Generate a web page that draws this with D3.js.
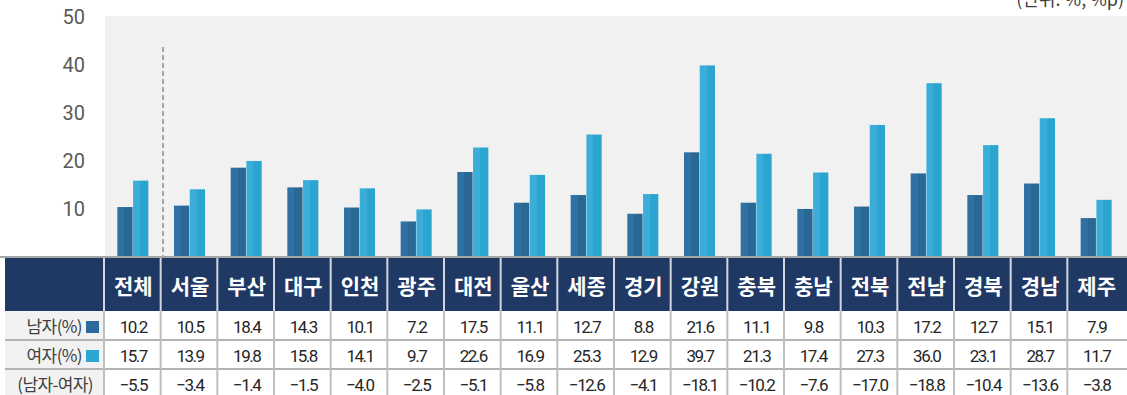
<!DOCTYPE html>
<html><head><meta charset="utf-8">
<script src="https://cdn.jsdelivr.net/npm/d3@7"></script>
<style>
html,body{margin:0;padding:0;background:#fff;}
svg{display:block;font-family:"Noto Sans CJK KR","Noto Sans",sans-serif;}
</style></head>
<body>
<svg id="chart" width="1127" height="395"></svg>
<script>
const categories = ["전체","서울","부산","대구","인천","광주","대전","울산","세종","경기","강원","충북","충남","전북","전남","경북","경남","제주"];
const maleValues = [10.2,10.5,18.4,14.3,10.1,7.2,17.5,11.1,12.7,8.8,21.6,11.1,9.8,10.3,17.2,12.7,15.1,7.9];
const femaleValues = [15.7,13.9,19.8,15.8,14.1,9.7,22.6,16.9,25.3,12.9,39.7,21.3,17.4,27.3,36.0,23.1,28.7,11.7];
const diffValues = [-5.5,-3.4,-1.4,-1.5,-4.0,-2.5,-5.1,-5.8,-12.6,-4.1,-18.1,-10.2,-7.6,-17.0,-18.8,-10.4,-13.6,-3.8];
const yTicks = [10,20,30,40,50];
const rowLabels = ["남자(%)","여자(%)","(남자-여자)"];
const unitLabel = "(단위: %, %p)";

const svg = d3.select("#chart");
const W = 1127;
const plotTop = 16, baseY = 256;
const x = d3.scaleBand().domain(categories).range([104, 1124]).paddingInner(0).paddingOuter(0);
const y = d3.scaleLinear().domain([0, 50]).range([baseY, plotTop]);
const series = ["m","f"];
const x1 = d3.scaleBand().domain(series).range([0, 31]).paddingInner(0.03);

const defs = svg.append("defs");
function grad(id, c1, c2){
  const g = defs.append("linearGradient").attr("id", id).attr("x1","0").attr("x2","1").attr("y1","0").attr("y2","0");
  g.append("stop").attr("offset","0").attr("stop-color",c1);
  g.append("stop").attr("offset","0.45").attr("stop-color",c1);
  g.append("stop").attr("offset","0.45").attr("stop-color",c2);
  g.append("stop").attr("offset","1").attr("stop-color",c2);
}
grad("gm","#2e71a2","#296795");
grad("gf","#3aaed9","#2aa5d0");

// plot background
svg.append("rect").attr("x", 105).attr("y", plotTop).attr("width", W - 105).attr("height", baseY - plotTop).attr("fill", "#f1f1f1");

// unit label (partly cut at top, as in the reference)
svg.append("text").attr("x", 1124).attr("y", 6).attr("text-anchor","end")
  .attr("font-size", 18).attr("fill", "#404040").text(unitLabel);

// y axis labels
const yAxis = d3.axisLeft(y).tickValues(yTicks).tickSize(0).tickPadding(0);
const gy = svg.append("g").attr("transform", "translate(85,0)").call(yAxis);
gy.select(".domain").remove();
gy.selectAll("text").attr("font-size", 20).attr("fill", "#595959")
  .attr("font-family", "Roboto, 'Noto Sans', sans-serif").attr("dy", "0.35em");

// dashed separator
svg.append("line").attr("x1", 163).attr("x2", 163).attr("y1", 47).attr("y2", baseY)
  .attr("stroke", "#a6a6a6").attr("stroke-width", 2).attr("stroke-dasharray", "5,3");

// bars
const groups = svg.append("g").selectAll("g").data(categories).join("g")
  .attr("transform", c => `translate(${x(c) + x.bandwidth()/2 - 15},0)`);
groups.append("rect").attr("x", x1("m")).attr("width", x1.bandwidth())
  .attr("y", (c,i) => y(maleValues[i])).attr("height", (c,i) => baseY - y(maleValues[i])).attr("fill", "url(#gm)");
groups.append("rect").attr("x", x1("f")).attr("width", x1.bandwidth())
  .attr("y", (c,i) => y(femaleValues[i])).attr("height", (c,i) => baseY - y(femaleValues[i])).attr("fill", "url(#gf)");

// axis line
svg.append("rect").attr("x", 0).attr("y", 256).attr("width", W).attr("height", 2).attr("fill", "#a6a6a6");

// table
const hTop = 258, hBot = 311;
const rowTops = [311, 340, 369];
const rowH = 29;
svg.append("rect").attr("x", 5).attr("y", hTop).attr("width", W - 5).attr("height", hBot - hTop).attr("fill", "#1f3864");
// header separators
svg.append("g").selectAll("rect").data(categories).join("rect")
  .attr("x", c => x(c) - 1).attr("y", hTop).attr("width", 2).attr("height", hBot - hTop).attr("fill", "#d0d5de");
svg.append("g").selectAll("text").data(categories).join("text")
  .attr("x", c => x(c) + x.bandwidth()/2 + 1).attr("y", 286).attr("dy", "0.36em")
  .attr("text-anchor", "middle").attr("fill", "#fff").attr("font-size", 21).attr("font-weight", "bold")
  .text(c => c);

// body backgrounds
svg.append("rect").attr("x", 5).attr("y", hBot).attr("width", 99).attr("height", 395 - hBot).attr("fill", "#f2f2f2");
svg.append("rect").attr("x", 104).attr("y", hBot).attr("width", W - 104).attr("height", 395 - hBot).attr("fill", "#fff");
// horizontal lines
svg.append("g").selectAll("rect").data([340, 369]).join("rect")
  .attr("x", 5).attr("y", d => d - 1).attr("width", W - 5).attr("height", 2).attr("fill", "#b3b3b3");
// vertical lines body
svg.append("g").selectAll("rect").data(categories).join("rect")
  .attr("x", c => x(c) - 1).attr("y", hBot).attr("width", 2).attr("height", 395 - hBot).attr("fill", "#bfbfbf");

// row labels
const labelEnds = [82, 82, 93];
rowLabels.forEach((lab, r) => {
  svg.append("text").attr("x", labelEnds[r]).attr("y", rowTops[r] + rowH/2 + 1).attr("dy", "0.36em")
    .attr("text-anchor", "end").attr("font-size", 17).attr("fill", "#404040").attr("letter-spacing", -0.6).text(lab);
});
svg.append("rect").attr("x", 86).attr("y", 321).attr("width", 13).attr("height", 12).attr("fill", "#2b6a9a");
svg.append("rect").attr("x", 86).attr("y", 350).attr("width", 13).attr("height", 12).attr("fill", "#2ba6d2");

const fmt = v => d3.format(".1f")(v).replace("-", "–");
const rowsData = [maleValues, femaleValues, diffValues];
rowsData.forEach((vals, r) => {
  svg.append("g").selectAll("text").data(categories).join("text")
    .attr("x", c => x(c) + x.bandwidth()/2 + 1).attr("y", rowTops[r] + rowH/2 + 1).attr("dy", "0.36em")
    .attr("text-anchor", "middle").attr("font-size", 17).attr("fill", "#262626").attr("letter-spacing", -1.5)
    .attr("font-family", "Roboto, 'Noto Sans', sans-serif")
    .text((c,i) => fmt(vals[i]));
});
</script>
</body></html>
